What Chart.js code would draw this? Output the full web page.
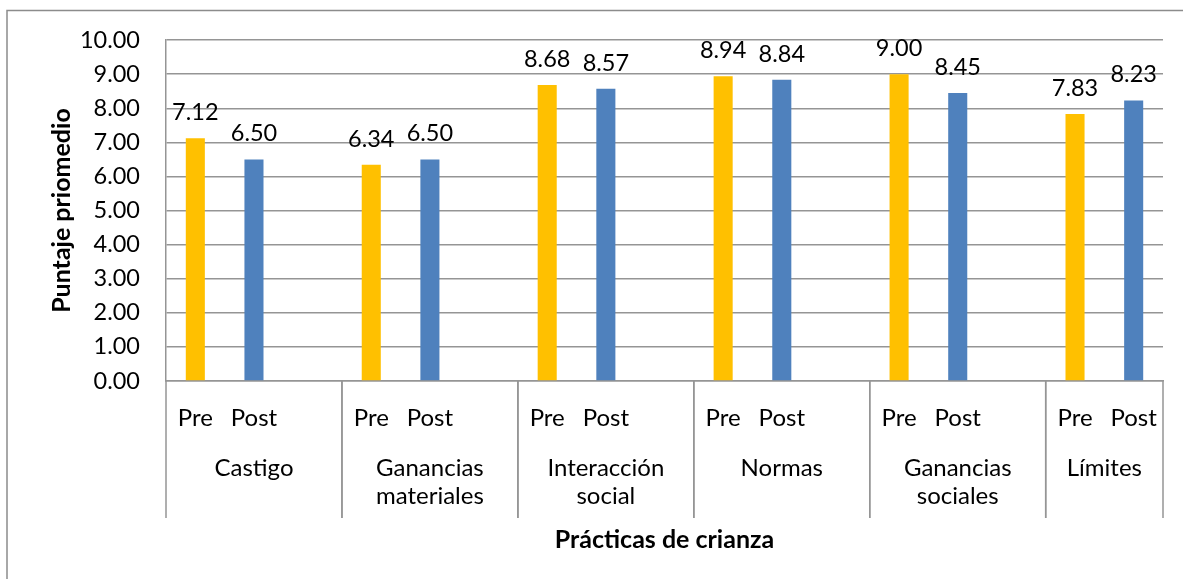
<!DOCTYPE html>
<html>
<head>
<meta charset="utf-8">
<script src="https://cdn.jsdelivr.net/npm/chart.js@4.4.1/dist/chart.umd.min.js"></script>
<style>
  body { margin: 0; background: #fff; }
  #wrap { width: 1183px; height: 579px; position: relative; }
</style>
</head>
<body>
<div id="wrap"><canvas id="chart"></canvas></div>
<script>
const groups = [
    ['Castigo'],
    ['Ganancias', 'materiales'],
    ['Interacción', 'social'],
    ['Normas'],
    ['Ganancias', 'sociales'],
    ['Límites']
];
const phases = ['Pre', 'Post'];
const preScores = [7.12, 6.34, 8.68, 8.94, 9.00, 7.83];
const postScores = [6.50, 6.50, 8.57, 8.84, 8.45, 8.23];
const yTicks = [0, 1, 2, 3, 4, 5, 6, 7, 8, 9, 10];

const PRE_COLOR = '#FFC000';
const POST_COLOR = '#4F81BD';
const GRID = '#959595';
const FONT = 'Lato';

// every group gets Pre, Post and an empty spacer slot (except the last one)
const labels = [];
const values = [];
const colors = [];
const groupSpans = [];
groups.forEach((g, i) => {
    const start = labels.length;
    labels.push(phases[0]); values.push(preScores[i]); colors.push(PRE_COLOR);
    labels.push(phases[1]); values.push(postScores[i]); colors.push(POST_COLOR);
    if (i < groups.length - 1) {
        labels.push(''); values.push(null); colors.push(PRE_COLOR);
    }
    groupSpans.push([start, labels.length]);
});

const frame = {
    id: 'frame',
    beforeDraw(chart) {
        const ctx = chart.ctx;
        ctx.save();
        ctx.strokeStyle = '#8c8c8c';
        ctx.lineWidth = 1.5;
        ctx.strokeRect(7, 10.5, 1400, 800);
        ctx.restore();
    }
};

const multiLevel = {
    id: 'multiLevel',
    afterDraw(chart) {
        const ctx = chart.ctx;
        const x = chart.scales.x;
        const bottom = chart.chartArea.bottom;
        ctx.save();
        // separators + group names
        ctx.strokeStyle = GRID;
        ctx.lineWidth = 1.5;
        ctx.fillStyle = '#000';
        ctx.font = '24px ' + FONT;
        ctx.textAlign = 'center';
        ctx.textBaseline = 'middle';
        groupSpans.forEach((span, i) => {
            const x0 = x.getPixelForValue(span[0] - 0.5);
            const x1 = x.getPixelForValue(span[1] - 0.5);
            [x0, x1].forEach(px => {
                ctx.beginPath();
                ctx.moveTo(px, bottom);
                ctx.lineTo(px, 518);
                ctx.stroke();
            });
            groups[i].forEach((line, j) => {
                ctx.fillText(line, (x0 + x1) / 2, 468 + j * 28);
            });
        });
        // value labels
        ctx.font = '23.5px ' + FONT;
        ctx.textBaseline = 'alphabetic';
        const meta = chart.getDatasetMeta(0);
        meta.data.forEach((bar, i) => {
            if (values[i] === null) return;
            ctx.fillText(values[i].toFixed(2), bar.x, bar.y - 18);
        });
        ctx.restore();
    }
};

const config = {
    type: 'bar',
    data: {
        labels: labels,
        datasets: [{
            data: values,
            backgroundColor: colors,
            barPercentage: 0.325,
            categoryPercentage: 1
        }]
    },
    options: {
        responsive: true,
        maintainAspectRatio: false,
        animation: false,
        layout: {
            padding: { left: 0, top: 40, right: 20, bottom: 0 }
        },
        plugins: {
            legend: { display: false },
            tooltip: { enabled: false }
        },
        scales: {
            x: {
                grid: { display: false },
                border: { display: true, color: GRID, width: 1.5 },
                ticks: {
                    autoSkip: false,
                    maxRotation: 0,
                    padding: 15,
                    color: '#000',
                    font: { family: FONT, size: 24 }
                },
                title: {
                    display: true,
                    text: 'Prácticas de crianza',
                    color: '#000',
                    font: { family: FONT, size: 25, weight: 'bold' },
                    padding: { top: 0, bottom: 24 }
                },
                afterFit: s => { s.height = 198; }
            },
            y: {
                min: 0,
                max: 10,
                afterBuildTicks: s => { s.ticks = yTicks.map(v => ({ value: v })); },
                ticks: {
                    padding: 26,
                    color: '#000',
                    font: { family: FONT, size: 23.5 },
                    callback: v => v.toFixed(2)
                },
                grid: { color: GRID, lineWidth: 1.5, drawTicks: false },
                border: { display: true, color: GRID, width: 1.5 },
                title: {
                    display: true,
                    text: 'Puntaje priomedio',
                    color: '#000',
                    font: { family: FONT, size: 25, weight: 'bold' },
                    padding: { top: 47, bottom: 0 }
                },
                afterFit: s => { s.width = 166; }
            }
        }
    },
    plugins: [frame, multiLevel]
};

var chart = new Chart(document.getElementById('chart'), config);
</script>
</body>
</html>
